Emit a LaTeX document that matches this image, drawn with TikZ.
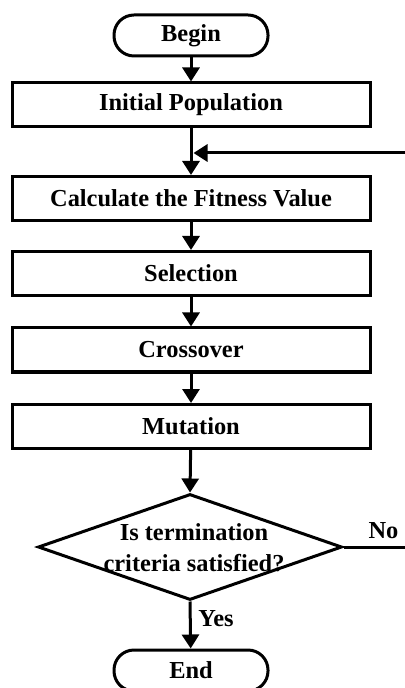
\documentclass[tikz,border=0pt]{standalone}
\usepackage{fontspec}
\setmainfont{Liberation Serif}
\usetikzlibrary{shapes.geometric,arrows.meta}
\tikzset {>={Triangle[width=8.5pt,length=7pt]}}
\tikzset{
  procbox/.style={draw,line width=1.5pt,minimum width=179pt,minimum height=22pt,inner sep=0pt},
  termbox/.style={draw,line width=1.5pt,rounded corners=10pt,minimum width=77pt,minimum height=20.5pt,inner sep=0pt},
  decbox/.style={draw,diamond,line width=1.5pt,minimum width=152pt,minimum height=53pt,inner sep=0pt},
  flow/.style={->,line width=1.5pt}
}

\begin{document}
\begin{tikzpicture}[x=0.5pt,y=-0.5pt,font=\fontsize{12.2}{15.5}\selectfont\bfseries]
\useasboundingbox (0,0) rectangle (405,688);

% Draw terminals and process boxes
\node[termbox] (begin) at (191,35.5)  {Begin};
\node[procbox] (init)  at (191,105)   {Initial Population};
\node[procbox] (calc)  at (191,198.5) {Calculate the Fitness Value};
\node[procbox] (sel)   at (191,273.5) {Selection};
\node[procbox] (cross) at (191,350)   {Crossover};
\node[procbox] (mut)   at (191,426.5) {Mutation};
\node[termbox] (end)   at (191,670.5) {End};

% Draw decision and its text
\node[decbox] (test) at (190,547) {};
\node[align=center] (testtext) at (194,547.5) {Is termination\\criteria satisfied?};

% Draw flow arrows
\draw[flow] (begin) -- (init);
\draw[flow] (init)  -- (calc);
\draw[flow] (calc)  -- (sel);
\draw[flow] (sel)   -- (cross);
\draw[flow] (cross) -- (mut);
\draw[flow] (mut)   -- (test.north);
\draw[flow] (test.south) -- node[right,pos=0.36] {Yes} (end);

% Draw loop back and No branch
\coordinate (merge) at (193.5,153);
\coordinate (back)  at (405,153);
\coordinate (noend) at (405,547);
\draw[flow] (back) -- (merge);
\draw[line width=1.5pt] (test.east) -- node[above,pos=0.65] {No} (noend);
\end{tikzpicture}
\end{document}
